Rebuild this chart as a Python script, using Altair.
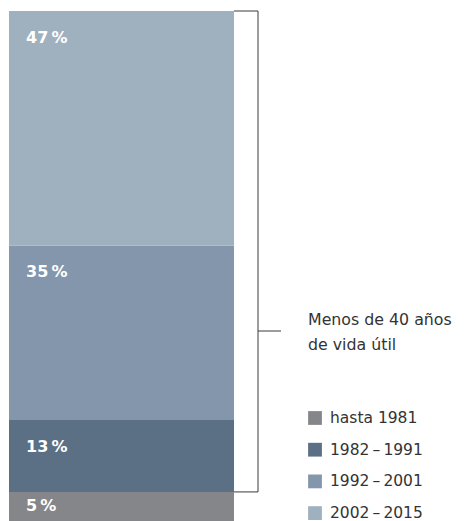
import altair as alt
import pandas as pd

# Segments, bottom to top
periods = ["hasta 1981", "1982\u2009–\u20091991", "1992\u2009–\u20092001", "2002\u2009–\u20092015"]
labels = ["5\u2009%", "13\u2009%", "35\u2009%", "47\u2009%"]
heights = [5.7, 14.1, 34.2, 46.0]  # drawn heights
colors = ["#858689", "#5b6f85", "#8396ab", "#9fb0bf"]
bracket_text = ["Menos de 40 años", "de vida útil"]

bottoms, tops, acc = [], [], 0.0
for h in heights:
    bottoms.append(acc)
    acc += h
    tops.append(acc)

df = pd.DataFrame({
    "period": periods,
    "label": labels,
    "y0": bottoms,
    "y1": tops,
    "lpos": [t - min(5.2, h / 2) for t, h in zip(tops, heights)],
    "row": list(range(len(periods))),
})

FONT = "DejaVu Sans"
yscale = alt.Scale(domain=[0, 100], nice=False, zero=False)
cscale = alt.Scale(domain=periods, range=colors)

base = alt.Chart(df)

bars = base.mark_rect().encode(
    x=alt.value(1), x2=alt.value(226),
    y=alt.Y("y0:Q", scale=yscale, axis=None), y2="y1:Q",
    color=alt.Color("period:N", scale=cscale, legend=None),
)

texts = base.mark_text(align="left", baseline="middle", font=FONT, fontSize=16,
                       fontWeight="bold", color="white").encode(
    x=alt.value(18), y=alt.Y("lpos:Q", scale=yscale), text="label:N")

bdf = pd.DataFrame({"top": [tops[-1]], "bot": [tops[0]]})
bbase = alt.Chart(bdf)
vrule = bbase.mark_rule(color="#3a3a3a", strokeWidth=1).encode(
    x=alt.value(250), y=alt.Y("top:Q", scale=yscale), y2="bot:Q")
trule = bbase.mark_rule(color="#3a3a3a", strokeWidth=1).encode(
    x=alt.value(226), x2=alt.value(250), y=alt.Y("top:Q", scale=yscale))
brule = bbase.mark_rule(color="#3a3a3a", strokeWidth=1).encode(
    x=alt.value(226), x2=alt.value(250), y=alt.Y("bot:Q", scale=yscale))
mrule = bbase.mark_rule(color="#3a3a3a", strokeWidth=1).encode(
    x=alt.value(250), x2=alt.value(273), y=alt.value(320))

note = bbase.mark_text(align="left", baseline="middle", font=FONT, fontSize=15.8,
                       color="#333333", lineHeight=25).encode(
    x=alt.value(300), y=alt.value(309), text=alt.value(bracket_text))

leg = base.transform_calculate(ly="407 + 31.7 * datum.row")
lsq = leg.mark_square(size=190, opacity=1).encode(
    x=alt.value(307), y=alt.Y("ly:Q", scale=None),
    color=alt.Color("period:N", scale=cscale, legend=None))
ltx = leg.mark_text(align="left", baseline="middle", font=FONT, fontSize=15.5,
                    color="#333333").encode(
    x=alt.value(322), y=alt.Y("ly:Q", scale=None), text="period:N")

chart = alt.layer(bars, texts, vrule, trule, brule, mrule, note, lsq, ltx).properties(
    width=449, height=510,
    padding={"left": 0, "top": 3, "right": 0, "bottom": 0},
    autosize=alt.AutoSizeParams(type="none"),
).configure_view(stroke=None)

chart.save("out.html", embed_options={"renderer": "svg", "actions": False})
